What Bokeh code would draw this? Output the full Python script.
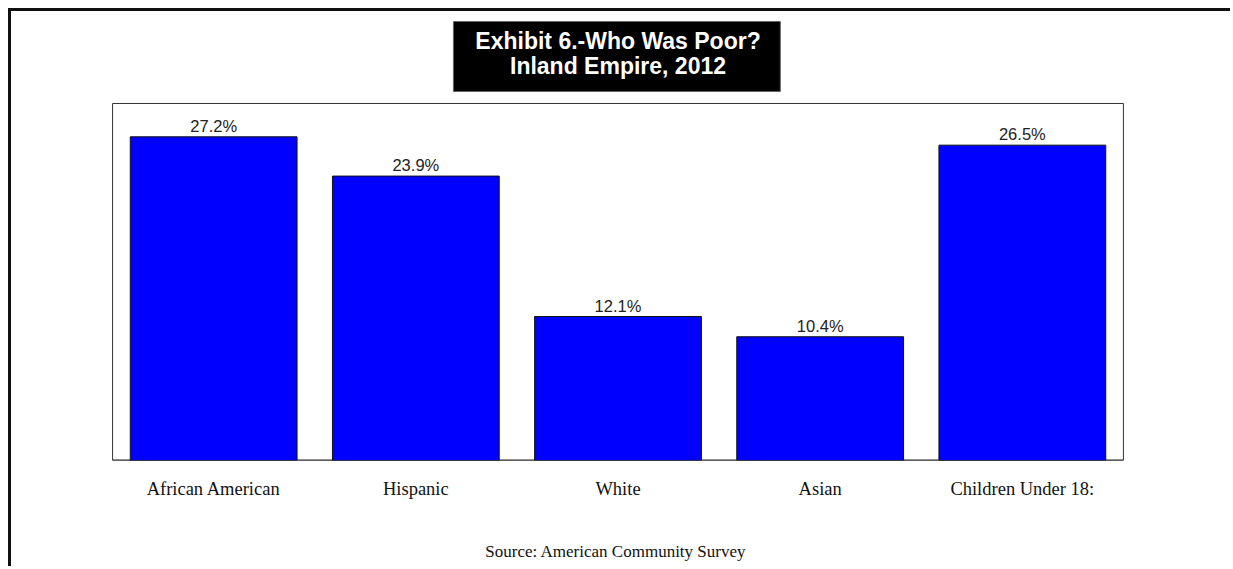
from bokeh.plotting import figure
from bokeh.models import FactorRange, Range1d, Label, BoxAnnotation, ColumnDataSource
from bokeh.core.properties import value
from bokeh.embed import file_html
from bokeh.resources import INLINE

categories = ["African American", "Hispanic", "White", "Asian", "Children Under 18:"]
poverty_rates = [27.2, 23.9, 12.1, 10.4, 26.5]
value_labels = ["27.2%", "23.9%", "12.1%", "10.4%", "26.5%"]
title_lines = ["Exhibit 6.-Who Was Poor?", "Inland Empire, 2012"]
source_note = "Source:  American Community Survey"
y_max = 30

src = ColumnDataSource(dict(cat=categories, val=poverty_rates, lab=value_labels))

p = figure(
    x_range=FactorRange(*categories, range_padding=0.5, range_padding_units="absolute"),
    y_range=Range1d(0, 37.73),
    width=1222, height=558,
    output_backend="svg", toolbar_location=None,
    min_border_left=0, min_border_right=9,
    min_border_top=0, min_border_bottom=109,
    styles={"margin-top": "8px", "margin-left": "8px",
            "border-top": "3px solid #111111", "border-left": "3px solid #111111"},
)
p.background_fill_color = "white"
p.border_fill_color = "white"
p.outline_line_color = None
p.xgrid.visible = False
p.ygrid.visible = False
p.yaxis.visible = False

ax = p.xaxis[0]
ax.axis_line_color = None
ax.major_tick_line_color = None
ax.minor_tick_line_color = None
ax.major_tick_out = 0
ax.major_tick_in = 0
ax.major_label_text_font = "Liberation Serif"
ax.major_label_text_font_size = "18.5px"
ax.major_label_text_color = "#111111"
ax.major_label_standoff = 18
ax.axis_label = source_note
ax.axis_label_text_font = "Liberation Serif"
ax.axis_label_text_font_size = "17px"
ax.axis_label_text_font_style = "normal"
ax.axis_label_text_color = "#111111"
ax.axis_label_standoff = 40

# plot area box
p.add_layout(BoxAnnotation(left=0, right=len(categories), bottom=0, top=y_max,
                           fill_color=None, fill_alpha=0,
                           line_color="#333333", line_width=1, line_alpha=1))
p.segment(x0=[0], x1=[len(categories)], y0=[0], y1=[0],
          line_color="#222222", line_width=2)

p.vbar(x="cat", top="val", width=0.825, source=src,
       fill_color="#0000ff", line_color="#111111", line_width=1)

p.text(x="cat", y="val", text="lab", source=src,
       text_align="center", text_baseline="bottom", y_offset=-2,
       text_font=value("Liberation Sans"), text_font_size="16.5px", text_color="#222222")

# title box
p.add_layout(BoxAnnotation(left=1.686, right=3.303, top=36.89, bottom=31.01,
                           fill_color="black", fill_alpha=1,
                           line_color="#666666", line_width=1, line_alpha=1))
p.add_layout(Label(x=2.5, y=35.22, text=title_lines[0], text_align="center",
                   text_baseline="alphabetic", text_font="Liberation Sans",
                   text_font_style="bold", text_font_size="23px", text_color="white"))
p.add_layout(Label(x=2.5, y=33.18, text=title_lines[1], text_align="center",
                   text_baseline="alphabetic", text_font="Liberation Sans",
                   text_font_style="bold", text_font_size="23px", text_color="white"))

open("out.html", "w").write(file_html(p, INLINE))
